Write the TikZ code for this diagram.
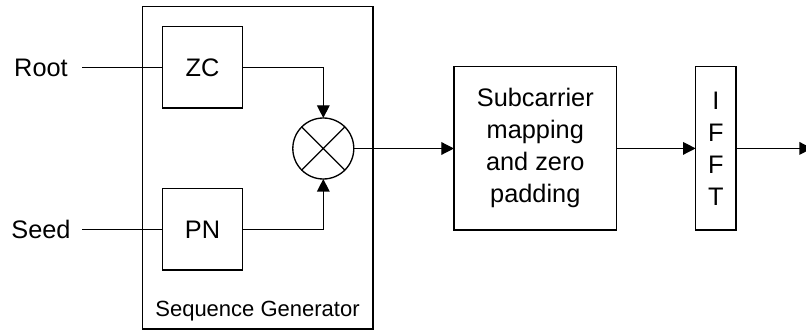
\documentclass[tikz,border=0pt]{standalone}
\usepackage{fontspec}
\setmainfont{Liberation Sans}
\usetikzlibrary{arrows.meta}
\tikzset{
  blk/.style={draw, line width=1pt, inner sep=0pt, outer sep=0pt, align=center,
    font=\fontsize{19}{24}\selectfont},
  lbl/.style={inner sep=0pt, font=\fontsize{19}{24}\selectfont},
  wire/.style={line width=1pt},
  arr/.style={line width=1pt, -{Triangle[length=9.5pt,width=9.5pt]}},
}
\begin{document}
\begin{tikzpicture}[x=0.75pt,y=-0.75pt]
\useasboundingbox (0,0) rectangle (806,331);
% outer group box
\node[blk, minimum width=172.9pt, minimum height=241.9pt] (sg) at (257.75,167.75) {};
\node[inner sep=0pt, anchor=base, font=\fontsize{16.5}{19}\selectfont] (sgl) at (257.5,316) {Sequence Generator};
% inner blocks
\node[blk, minimum width=60.3pt, minimum height=61pt] (zc) at (202.5,67.5) {ZC};
\node[blk, minimum width=60.3pt, minimum height=61pt] (pn) at (202.5,229.3) {PN};
\node[draw, circle, line width=1pt, inner sep=0pt, outer sep=0pt, minimum size=45.75pt] (mul) at (323.3,148.5) {};
\draw[wire] (mul.45) -- (mul.225) (mul.135) -- (mul.-45);
\node[blk, minimum width=122pt, minimum height=122.5pt] (sub) at (535.3,148.4) {Subcarrier\\mapping\\and zero\\padding};
\node[blk, minimum width=30.2pt, minimum height=122.5pt] (ifft) at (715.8,148.4) {I\\F\\F\\T};
\coordinate (out) at (812,148.4);
% inputs
\node[lbl, minimum width=61.5pt] (root) at (41,67.5) {Root};
\node[lbl, minimum width=61.5pt] (seed) at (41,229.3) {Seed};
% connectors
\draw[wire] (root.east) -- (zc.west);
\draw[wire] (seed.east) -- (pn.west);
\draw[arr] (zc.east) -| (mul.north);
\draw[arr] (pn.east) -| (mul.south);
\draw[arr] (mul.east) -- (sub.west |- mul.east);
\draw[arr] (sub.east) -- (ifft.west);
\draw[arr] (ifft.east) -- (out);
\end{tikzpicture}
\end{document}
